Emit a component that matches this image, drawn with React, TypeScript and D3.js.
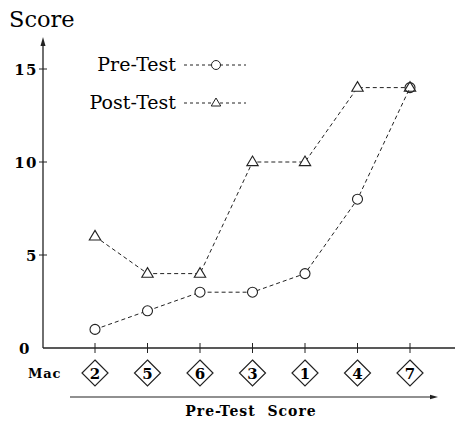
import React, { useRef, useEffect } from "react";
import * as d3 from "d3";

const macs = ["2", "5", "6", "3", "1", "4", "7"];
const preTest = [1, 2, 3, 3, 4, 8, 14];
const postTest = [6, 4, 4, 10, 10, 14, 14];
const yTicks = [0, 5, 10, 15];

const FONT = "DejaVu Serif";

export default function App() {
  const svgRef = useRef<SVGSVGElement>(null);

  useEffect(() => {
    const svg = d3.select(svgRef.current);
    svg.selectAll("*").remove();

    const width = 460;
    const height = 423;
    const axisX = 43;
    const axisY = 348;

    const x = d3
      .scalePoint<string>()
      .domain(macs)
      .range([95, 410]);
    const y = d3.scaleLinear().domain([0, 15]).range([axisY, 69]);

    const g = svg.append("g");

    // y axis with arrow
    g.append("line")
      .attr("x1", axisX)
      .attr("x2", axisX)
      .attr("y1", axisY)
      .attr("y2", 42)
      .attr("stroke", "#222")
      .attr("stroke-width", 1.3);
    g.append("path")
      .attr("d", `M${axisX},37 L${axisX - 2.5},46 L${axisX + 2.5},46 Z`)
      .attr("fill", "#222");

    // x axis
    g.append("line")
      .attr("x1", axisX)
      .attr("x2", 455)
      .attr("y1", axisY)
      .attr("y2", axisY)
      .attr("stroke", "#222")
      .attr("stroke-width", 1.3);

    // y ticks
    yTicks.forEach((t) => {
      if (t > 0) {
        g.append("line")
          .attr("x1", axisX - 4)
          .attr("x2", axisX + 4)
          .attr("y1", y(t))
          .attr("y2", y(t))
          .attr("stroke", "#222");
      }
      g.append("text")
        .attr("x", t === 0 ? 19 : axisX - 5)
        .attr("y", y(t) + 5.5)
        .attr("text-anchor", t === 0 ? "start" : "end")
        .style("font-family", FONT)
        .style("letter-spacing", "1.5px")
        .attr("font-weight", "bold")
        .attr("font-size", 15)
        .text(t);
    });

    // x ticks + diamonds
    macs.forEach((m) => {
      const cx = x(m)!;
      g.append("line")
        .attr("x1", cx)
        .attr("x2", cx)
        .attr("y1", axisY - 5)
        .attr("y2", axisY + 5)
        .attr("stroke", "#222");
      g.append("path")
        .attr("d", `M${cx},360 L${cx + 13},373 L${cx},386 L${cx - 13},373 Z`)
        .attr("fill", "none")
        .attr("stroke", "#222")
        .attr("stroke-width", 1.2);
      g.append("text")
        .attr("x", cx)
        .attr("y", 378.5)
        .attr("text-anchor", "middle")
        .style("font-family", FONT)
        .attr("font-weight", "bold")
        .attr("font-size", 15)
        .text(m);
    });

    g.append("text")
      .attr("x", 28)
      .attr("y", 377.5)
      .style("font-family", FONT)
      .style("letter-spacing", "0.8px")
      .attr("font-weight", "bold")
      .attr("font-size", 13)
      .text("Mac");

    // bottom arrow
    g.append("line")
      .attr("x1", 70)
      .attr("x2", 432)
      .attr("y1", 397)
      .attr("y2", 397)
      .attr("stroke", "#222")
      .attr("stroke-width", 1.1);
    g.append("path")
      .attr("d", "M438,397 L430,394.8 L430,399.2 Z")
      .attr("fill", "#222");

    g.append("text")
      .attr("x", 251)
      .attr("y", 416)
      .attr("text-anchor", "middle")
      .style("font-family", FONT)
      .style("white-space", "pre")
      .style("letter-spacing", "1px")
      .attr("font-weight", "bold")
      .attr("font-size", 14)
      .text("Pre-Test  Score");

    // Score title
    g.append("text")
      .attr("x", 9)
      .attr("y", 27)
      .style("font-family", FONT)
      .attr("font-size", 22.5)
      .text("Score");

    const line = d3
      .line<number>()
      .x((_, i) => x(macs[i])!)
      .y((d) => y(d));

    const triangle = (cx: number, cy: number, s = 6) =>
      `M${cx},${cy - s} L${cx + s * 0.95},${cy + s * 0.6} L${cx - s * 0.95},${cy + s * 0.6} Z`;

    // post-test
    g.append("path")
      .attr("d", line(postTest))
      .attr("fill", "none")
      .attr("stroke", "#222")
      .attr("stroke-width", 1)
      .attr("stroke-dasharray", "4,3");
    postTest.forEach((v, i) => {
      g.append("path")
        .attr("d", triangle(x(macs[i])!, y(v)))
        .attr("fill", "white")
        .attr("stroke", "#222")
        .attr("stroke-width", 1.1);
    });

    // pre-test
    g.append("path")
      .attr("d", line(preTest))
      .attr("fill", "none")
      .attr("stroke", "#222")
      .attr("stroke-width", 1)
      .attr("stroke-dasharray", "4,3");
    preTest.forEach((v, i) => {
      g.append("circle")
        .attr("cx", x(macs[i])!)
        .attr("cy", y(v))
        .attr("r", 5)
        .attr("fill", i === preTest.length - 1 ? "none" : "white")
        .attr("stroke", "#222")
        .attr("stroke-width", 1.1);
    });

    // legend
    const legend = [
      { label: "Pre-Test", ly: 65, shape: "circle" },
      { label: "Post-Test", ly: 103, shape: "triangle" },
    ];
    legend.forEach((l) => {
      g.append("text")
        .attr("x", 176)
        .attr("y", l.ly + 6)
        .attr("text-anchor", "end")
        .style("font-family", FONT)
        .attr("font-size", 19)
        .text(l.label);
      g.append("line")
        .attr("x1", 184)
        .attr("x2", 246)
        .attr("y1", l.ly)
        .attr("y2", l.ly)
        .attr("stroke", "#222")
        .attr("stroke-dasharray", "3,3");
      if (l.shape === "circle") {
        g.append("circle")
          .attr("cx", 216)
          .attr("cy", l.ly)
          .attr("r", 4.5)
          .attr("fill", "white")
          .attr("stroke", "#222");
      } else {
        g.append("path")
          .attr("d", triangle(216, l.ly, 5))
          .attr("fill", "white")
          .attr("stroke", "#222");
      }
    });

    svg.attr("width", width).attr("height", height);
  }, []);

  return (
    <svg
      ref={svgRef}
      width={460}
      height={423}
      style={{ position: "absolute", left: 0, top: 0, background: "white" }}
    />
  );
}
